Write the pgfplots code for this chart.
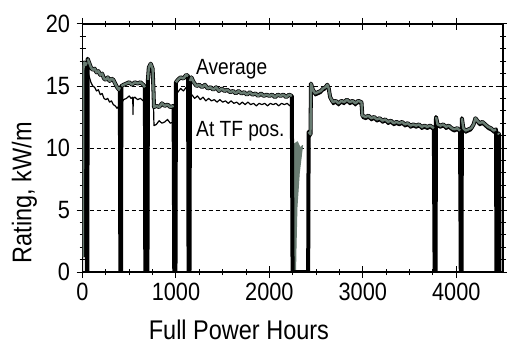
\documentclass[border=0pt]{standalone}
\usepackage{pgfplots}
\pgfplotsset{compat=1.18}
\usepackage{fontspec}
\setmainfont[FakeStretch=0.87]{Liberation Sans}
\definecolor{avgc}{RGB}{105,124,114}

\pgfplotstableread{
x y
4 1.2
8 16.3
20 16.9
35 16.7
44 16.9
46 0
52 0
55 17.2
70 16.9
90 16.5
110 16.3
130 16.4
150 16.1
170 16.2
190 15.9
210 16.0
230 15.6
250 15.5
270 15.7
290 15.4
310 15.6
330 15.5
350 15.2
370 14.9
390 14.7
400 14.9
405 0
412 0
416 15.0
440 15.1
470 15.2
500 15.3
530 15.1
560 15.3
590 15.2
620 15.3
650 15.1
668 14.9
672 0
695 0
700 15.5
710 16.5
730 16.8
750 16.4
758 15.0
765 13.3
790 13.4
820 13.3
850 13.6
880 13.4
910 13.5
940 13.3
975 13.4
982 0
995 0
1000 15.3
1020 15.5
1050 15.7
1080 15.6
1110 15.9
1130 15.8
1135 0
1145 0
1150 15.4
1165 15.7
1190 15.3
1220 15.0
1250 15.1
1280 14.9
1310 15.1
1340 14.8
1370 14.9
1400 14.7
1430 14.9
1460 14.6
1490 14.8
1520 14.6
1550 14.7
1580 14.5
1610 14.6
1640 14.4
1670 14.6
1700 14.4
1730 14.5
1760 14.3
1790 14.5
1820 14.3
1850 14.4
1880 14.2
1910 14.4
1940 14.2
1970 14.3
2000 14.2
2030 14.3
2060 14.1
2090 14.3
2120 14.2
2150 14.3
2180 14.1
2210 14.3
2240 14.2
2248 0
2415 0
2420 11.3
2440 11.1
2445 15.2
2465 14.7
2490 14.4
2520 14.5
2550 14.6
2575 14.8
2600 14.9
2620 15.1
2635 14.8
2650 14.1
2680 13.7
2710 13.8
2740 13.6
2770 13.8
2800 13.7
2830 13.9
2860 13.7
2890 13.8
2920 13.6
2950 13.8
2985 13.7
2995 12.6
3030 12.5
3060 12.6
3090 12.4
3120 12.5
3150 12.3
3180 12.4
3210 12.2
3240 12.3
3270 12.1
3300 12.2
3330 12.0
3360 12.1
3390 12.0
3420 12.1
3450 11.9
3480 12.0
3510 11.8
3540 11.9
3570 11.8
3600 11.9
3630 11.7
3660 11.8
3690 11.7
3720 11.8
3760 11.6
3768 0
3778 0
3783 12.5
3800 11.9
3830 11.8
3860 11.9
3890 11.7
3920 11.8
3950 11.6
3980 11.5
4010 11.6
4040 11.4
4048 0
4056 0
4060 12.4
4075 11.6
4100 11.4
4130 11.5
4160 11.6
4185 11.9
4205 12.4
4225 12.2
4250 12.0
4280 12.1
4310 11.9
4340 11.7
4370 11.6
4400 11.4
4425 11.5
4430 0
4445 0
4448 11.2
4458 11.1
4462 0
}\avgdata

\pgfplotstableread{
x y
0 0
8 15.8
20 16.3
35 16.1
44 16.3
46 0
52 0
55 16.2
70 15.8
90 15.3
110 15.0
130 14.9
150 14.6
170 14.7
190 14.3
210 14.4
230 14.0
250 13.9
270 14.0
290 13.7
310 13.8
330 13.5
350 13.4
370 13.2
390 13.4
400 13.3
405 0
412 0
416 13.6
440 13.9
470 14.0
500 14.2
520 14.0
538 14.1
540 12.7
544 14.0
560 14.1
590 13.9
620 14.0
650 13.8
668 13.7
672 0
695 0
700 15.0
710 16.0
730 16.2
750 15.9
758 14.0
765 11.8
790 11.9
820 12.2
850 12.0
880 12.1
910 12.3
940 12.0
975 12.1
982 0
995 0
1000 14.3
1020 14.5
1050 14.8
1080 14.6
1110 14.9
1130 14.7
1135 0
1145 0
1150 14.2
1170 14.3
1200 14.0
1230 14.2
1260 13.9
1290 14.1
1320 13.8
1350 14.0
1380 13.8
1410 13.9
1440 13.7
1470 13.9
1500 13.7
1530 13.8
1560 13.6
1590 13.8
1620 13.6
1650 13.7
1680 13.5
1710 13.7
1740 13.5
1770 13.7
1800 13.5
1830 13.6
1860 13.4
1890 13.6
1920 13.5
1950 13.6
1980 13.4
2010 13.6
2040 13.5
2070 13.6
2100 13.4
2130 13.6
2160 13.5
2190 13.6
2220 13.4
2240 13.5
2248 0
2415 0
2420 11.1
2440 10.9
2445 15.0
2465 14.5
2490 14.2
2520 14.3
2550 14.4
2575 14.6
2600 14.7
2620 14.9
2635 14.6
2650 13.9
2680 13.5
2710 13.6
2740 13.4
2770 13.6
2800 13.5
2830 13.7
2860 13.5
2890 13.6
2920 13.4
2950 13.6
2985 13.5
2995 12.4
3030 12.3
3060 12.4
3090 12.2
3120 12.3
3150 12.1
3180 12.2
3210 12.0
3240 12.1
3270 11.9
3300 12.0
3330 11.8
3360 11.9
3390 11.8
3420 11.9
3450 11.7
3480 11.8
3510 11.6
3540 11.7
3570 11.6
3600 11.7
3630 11.5
3660 11.6
3690 11.5
3720 11.6
3760 11.4
3768 0
3778 0
3783 12.3
3800 11.7
3830 11.6
3860 11.7
3890 11.5
3920 11.6
3950 11.4
3980 11.3
4010 11.4
4040 11.2
4048 0
4056 0
4060 12.2
4075 11.4
4100 11.2
4130 11.3
4160 11.4
4185 11.7
4205 12.2
4225 12.0
4250 11.8
4280 11.9
4310 11.7
4340 11.5
4370 11.4
4400 11.2
4425 11.3
4430 0
4445 0
4448 11.0
4458 10.9
4462 0
}\tfdata

\begin{document}
\begin{tikzpicture}
\begin{axis}[
  scale only axis,
  width=420.5pt, height=248pt,
  xmin=0, xmax=4500, ymin=0, ymax=20,
  xtick={0,1000,2000,3000,4000},
  ytick={0,5,10,15,20},
  minor x tick num=3,
  minor y tick num=4,
  tick align=center,
  major tick length=12pt,
  minor tick length=6pt,
  every tick/.style={black, line width=1pt},
  axis line style={line width=1.2pt},
  ymajorgrids,
  grid style={black, line width=0.9pt, dash pattern=on 4pt off 3pt},
  /pgf/number format/assume math mode=true,
  /pgf/number format/1000 sep={},
  ticklabel style={font=\fontsize{25}{29}\selectfont},
  xticklabel style={yshift=-2pt},
  yticklabel style={xshift=-3pt},
  xlabel={Full Power Hours},
  ylabel={Rating, kW/m},
  label style={font=\fontsize{27}{31}\selectfont},
  xlabel style={at={(axis description cs:0.372,-0.232)}, anchor=center},
  ylabel style={at={(axis description cs:-0.138,0.319)}, anchor=center, rotate=0},
  line join=round,
  unbounded coords=jump,
]
\addplot[black, line width=1.2pt] table[x=x,y=y] {\tfdata};
\addplot[fill=avgc, draw=avgc, line width=1pt] coordinates {(2262,0) (2262,10.3) (2300,10.5) (2330,10.0) (2355,10.2) (2320,8.0) (2295,5.2) (2285,2.0) (2280,0)} -- cycle;
\addplot[black, line width=4pt] table[x=x,y=y] {\avgdata};
\addplot[avgc, line width=2.4pt, y filter/.expression={y<1 ? nan : y}] table[x=x,y=y] {\avgdata};
\node[anchor=base west, inner sep=0pt, font=\fontsize{22}{26}\selectfont] at (axis cs:1215,15.9) {Average};
\node[anchor=base west, inner sep=0pt, font=\fontsize{22}{26}\selectfont] at (axis cs:1215,10.95) {At TF pos.};
\end{axis}
\pgfresetboundingbox
\path[use as bounding box] ([shift={(-82.5pt,-73pt)}]current axis.south west) rectangle ([shift={(4pt,24pt)}]current axis.north east);
\end{tikzpicture}
\end{document}
